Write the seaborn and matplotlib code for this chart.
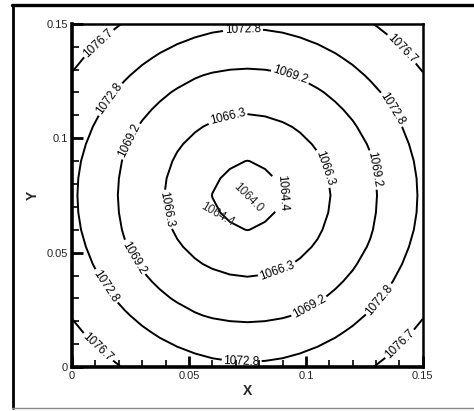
import matplotlib
matplotlib.use("Agg")
import matplotlib.pyplot as plt
from matplotlib.lines import Line2D
from matplotlib.ticker import MultipleLocator
import seaborn as sns
import numpy as np

# radial profile (distance from centre -> value)
radius = [0.0, 0.0156, 0.0361, 0.0562, 0.0725, 0.0925, 0.112]
value = [1064.0, 1064.4, 1066.3, 1069.2, 1072.8, 1076.7, 1081.0]
centre = (0.075, 0.075)
levels = [1064.4, 1066.3, 1069.2, 1072.8, 1076.7]

# where the contour labels sit
label_pos = [
    (0.0731, 0.1478), (0.0726, 0.0039), (0.015, 0.118), (0.136, 0.112),
    (0.0141, 0.035), (0.1316, 0.0293),
    (0.012, 0.1408), (0.1405, 0.1385), (0.012, 0.0096), (0.1415, 0.0087),
    (0.0932, 0.1268), (0.0261, 0.098), (0.1286, 0.0861), (0.0248, 0.0468),
    (0.1017, 0.0258),
    (0.0662, 0.1102), (0.106, 0.0861), (0.0389, 0.0686), (0.088, 0.0415),
    (0.091, 0.0761),
]

sns.set_style("ticks")
plt.rcParams['font.family'] = ['Liberation Sans', 'DejaVu Sans']

xs = np.linspace(0, 0.15, 21)
ys = np.linspace(0, 0.15, 21)
X, Y = np.meshgrid(xs, ys)
R = np.hypot(X - centre[0], Y - centre[1])
Z = np.interp(R, radius, value)

fig = plt.figure(figsize=(4.74, 4.11), dpi=100)
ax = fig.add_axes([0.152, 0.107, 0.740, 0.835])

cs = ax.contour(X, Y, Z, levels=levels, colors='black', linewidths=1.4)
ax.clabel(cs, fmt='%.1f', fontsize=8.5, inline=True, inline_spacing=2,
          manual=label_pos)

ax.text(0.0752, 0.0739, '1064.0', fontsize=8.5, rotation=-45,
        ha='center', va='center')
ax.text(0.062, 0.0665, '1064.4', fontsize=8.5, rotation=-30,
        ha='center', va='center')

ax.set_xlim(0, 0.15)
ax.set_ylim(0, 0.15)
ax.set_xticks([0, 0.05, 0.1, 0.15])
ax.set_yticks([0, 0.05, 0.1, 0.15])
ax.set_xticklabels(['0', '0.05', '0.1', '0.15'])
ax.set_yticklabels(['0', '0.05', '0.1', '0.15'])
ax.xaxis.set_minor_locator(MultipleLocator(0.01))
ax.yaxis.set_minor_locator(MultipleLocator(0.01))
ax.tick_params(which='major', direction='in', length=8, width=2,
               labelsize=8, pad=3, color='black')
ax.tick_params(which='minor', direction='in', length=5, width=1.2,
               color='black')
ax.set_xlabel('X', fontsize=10, fontweight='bold', labelpad=2)
ax.set_ylabel('Y', fontsize=10, fontweight='bold', labelpad=5)
for side in ['left', 'bottom']:
    ax.spines[side].set_linewidth(2.6)
for side in ['top', 'right']:
    ax.spines[side].set_linewidth(1.8)
for sp in ax.spines.values():
    sp.set_color('black')

# outer frame of the figure
fig.add_artist(Line2D([12 / 474, 1], [1 - 5.5 / 411, 1 - 5.5 / 411],
                      color='black', lw=2.4, transform=fig.transFigure))
fig.add_artist(Line2D([13 / 474, 13 / 474], [1 - 5.5 / 411, 3 / 411],
                      color='black', lw=2.0, transform=fig.transFigure))
fig.add_artist(Line2D([12 / 474, 1], [3 / 411, 3 / 411],
                      color='#888888', lw=1.0, transform=fig.transFigure))

fig.savefig('out.png', dpi=100)
